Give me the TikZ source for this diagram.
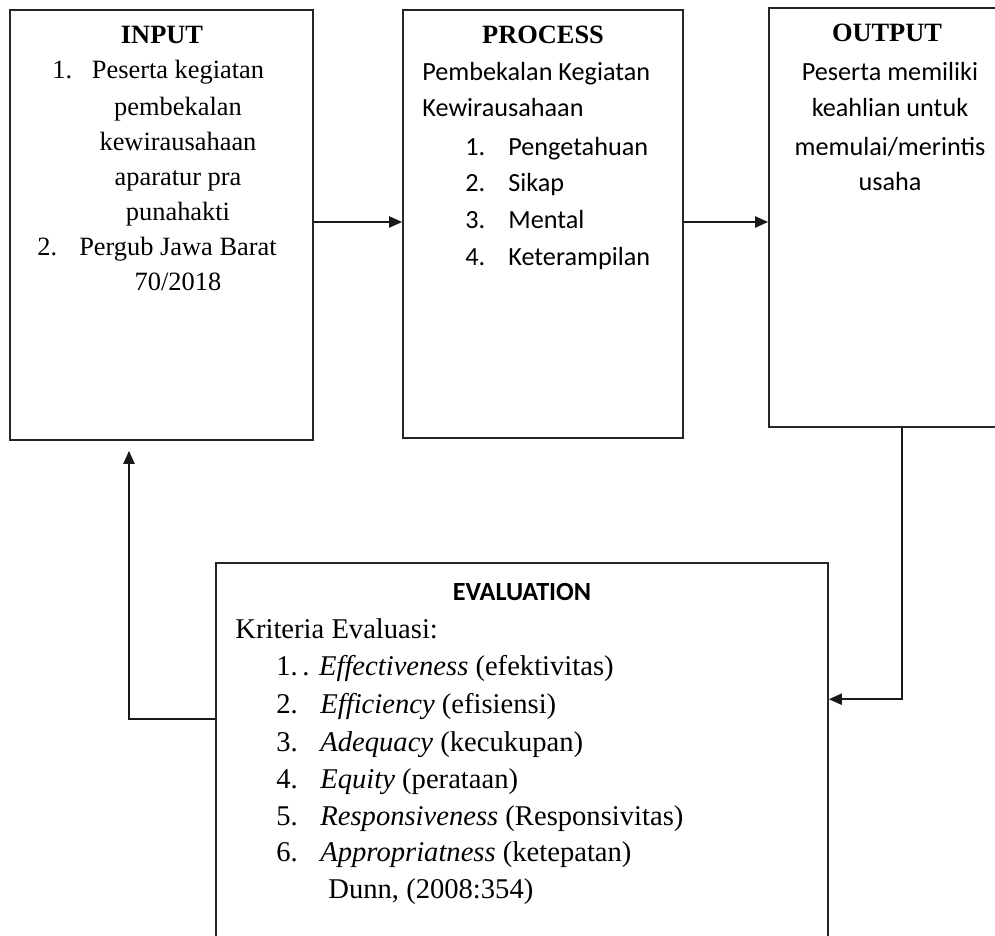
\documentclass[tikz,border=0pt]{standalone}
\usepackage{fontspec}
\setmainfont{Liberation Serif}
\newfontfamily\calibri{Carlito}
\usetikzlibrary{positioning, arrows.meta, fit, calc}

\begin{document}
\begin{tikzpicture}[x=0.5pt, y=-0.5pt,
    box/.style={draw=black!85, line width=0.8pt, inner sep=0pt},
    tm/.style={inner sep=0pt, yshift=-2.2pt, font=\fontsize{13.2}{16}\selectfont},
    tmb/.style={inner sep=0pt, yshift=-2.2pt, anchor=mid, font=\fontsize{13.2}{16}\selectfont\bfseries},
    cb/.style={inner sep=0pt, yshift=-2.2pt, font=\calibri\fontsize{13.1}{16}\selectfont},
    ev/.style={inner sep=0pt, yshift=-2.2pt, anchor=mid west, font=\fontsize{14.3}{17}\selectfont},
    arr/.style={-{Triangle[length=6.5pt, width=5.5pt]}, draw=black!90, line width=1pt}]
  \clip (0,0) rectangle (995,936);

  % the four boxes
  \node[box, fit={(10,10) (313,440)}]   (input)   {};
  \node[box, fit={(403,10) (683,438)}]  (process) {};
  \node[box, fit={(769,8) (1011,427)}]  (output)  {};
  \node[box, fit={(216,563) (828,960)}] (eval)    {};

  % INPUT
  \node[tmb] (inT) at (162,35) {INPUT};
  \node[tm, anchor=mid west] (inN1) at (52,70) {1.};
  \node[tm, anchor=mid west] (inN2) at (37,247) {2.};
  \foreach \y/\t [count=\i] in {70/Peserta kegiatan, 107/pembekalan, 142/kewirausahaan,
      177/aparatur pra, 212/punahakti, 247/Pergub Jawa Barat, 282/{70/2018}}
    \node[tm, anchor=mid] (inL\i) at (178,\y) {\t};

  % PROCESS
  \node[tmb] (prT) at (543,35) {PROCESS};
  \node[cb, anchor=mid west] (prA) at (422,72) {Pembekalan Kegiatan};
  \node[cb, anchor=mid west] (prB) at (422,108) {Kewirausahaan};
  \foreach \y/\t [count=\i] in {147/Pengetahuan, 183/Sikap, 220/Mental, 257/Keterampilan} {
    \node[cb, anchor=mid west] (prN\i) at (465,\y) {\i.};
    \node[cb, anchor=mid west] (prL\i) at (508,\y) {\t};
  }

  % OUTPUT
  \node[tmb] (ouT) at (887,33) {OUTPUT};
  \foreach \y/\t [count=\i] in {72/Peserta memiliki, 108/keahlian untuk,
      147/{memulai/merintis}, 182/usaha}
    \node[cb, anchor=mid] (ouL\i) at (890,\y) {\t};

  % EVALUATION
  \node[cb, anchor=mid, font=\calibri\fontsize{13.1}{16}\selectfont\bfseries] (evT) at (522,592) {EVALUATION};
  \node[ev] (evK) at (235,630) {Kriteria Evaluasi:};
  \node[ev] (evL1) at (302,667) {. \textit{Effectiveness} (efektivitas)};
  \foreach \y/\t [count=\i from 2] in {705/{\textit{Efficiency} (efisiensi)},
      743/{\textit{Adequacy} (kecukupan)}, 780/{\textit{Equity} (perataan)},
      817/{\textit{Responsiveness} (Responsivitas)}, 853/{\textit{Appropriatness} (ketepatan)}}
    \node[ev] (evL\i) at (320,\y) {\t};
  \foreach \y [count=\i] in {667,705,743,780,817,853}
    \node[ev] (evN\i) at (276,\y) {\i.};
  \node[ev] (evD) at (328,890) {Dunn, (2008:354)};

  % connectors
  \draw[arr] ($(input.east)+(0,-3)$) -- ($(process.west)+(0,-2)$);
  \draw[arr] ($(process.east)+(0,-2)$) -- ($(output.west)+(0,4.5)$);
  \draw[arr] ($(output.south)+(12,0)$) |- ($(eval.north east)+(0,137)$);
  \draw[arr] ($(eval.north west)+(0,157)$) -| ($(input.south)+(-32.5,10)$);
\end{tikzpicture}
\end{document}
